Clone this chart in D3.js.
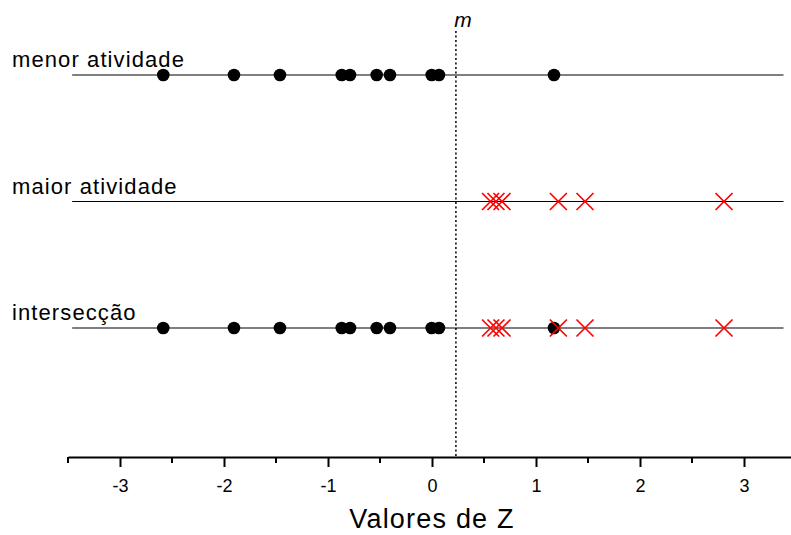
<!DOCTYPE html>
<html>
<head>
<meta charset="utf-8">
<script src="https://cdn.jsdelivr.net/npm/d3@7"></script>
<style>
  body { margin: 0; background: #fff; }
  text { font-family: "Liberation Sans", Arial, sans-serif; }
</style>
</head>
<body>
<div id="chart"></div>
<script>
// data
let rows = ["menor atividade", "maior atividade", "intersecção"];
let menor = [-2.584, -1.904, -1.462, -0.868, -0.788, -0.532, -0.404, -0.003, 0.067, 1.173];
let maior = [0.563, 0.615, 0.673, 1.215, 1.471, 2.808];
let mValue = 0.23;
let majorTicks = [-3, -2, -1, 0, 1, 2, 3];
let minorTicks = [-3.5, -2.5, -1.5, -0.5, 0.5, 1.5, 2.5, 3.5];

let width = 791, height = 535;

let svg = d3.select("#chart")
    .append("svg")
    .attr("width", width)
    .attr("height", height);

// x scale: 0 sits at 432px, one unit = 104px
let x = d3.scaleLinear()
    .domain([-3.5, 3.5])
    .range([68, 796]);

let y = d3.scalePoint()
    .domain(rows)
    .range([75, 328]);

let axisY = 457;

// row lines
svg.selectAll(".rowline")
    .data(rows)
    .enter()
    .append("line")
    .attr("x1", x(-3.46))
    .attr("x2", x(3.38))
    .attr("y1", function(d) { return y(d); })
    .attr("y2", function(d) { return y(d); })
    .attr("stroke", "#000")
    .attr("stroke-width", 1.1);

// row labels
svg.selectAll(".rowlabel")
    .data(rows)
    .enter()
    .append("text")
    .attr("x", 12)
    .attr("y", function(d) { return y(d) - 8; })
    .attr("font-size", "22px")
    .attr("letter-spacing", "1.1px")
    .attr("fill", "#000")
    .text(function(d) { return d; });

// m dotted line
svg.append("line")
    .attr("x1", x(mValue))
    .attr("x2", x(mValue))
    .attr("y1", 31)
    .attr("y2", axisY)
    .attr("stroke", "#000")
    .attr("stroke-width", 1.5)
    .attr("stroke-dasharray", "2,2.5");

svg.append("text")
    .attr("x", x(mValue) + 7)
    .attr("y", 27)
    .attr("text-anchor", "middle")
    .attr("font-size", "21px")
    .attr("font-style", "italic")
    .text("m");

// dots
let dotData = [];
menor.forEach(function(v) { dotData.push({row: "menor atividade", v: v}); });
menor.forEach(function(v) { dotData.push({row: "intersecção", v: v}); });

svg.selectAll(".dot")
    .data(dotData)
    .enter()
    .append("circle")
    .attr("cx", function(d) { return x(d.v); })
    .attr("cy", function(d) { return y(d.row); })
    .attr("r", 6.3)
    .attr("fill", "#000");

// crosses
let crossData = [];
maior.forEach(function(v) { crossData.push({row: "maior atividade", v: v}); });
maior.forEach(function(v) { crossData.push({row: "intersecção", v: v}); });

let cs = 8.5;
svg.selectAll(".cross")
    .data(crossData)
    .enter()
    .append("path")
    .attr("d", function(d) {
        let cx = x(d.v), cy = y(d.row);
        return "M" + (cx - cs) + "," + (cy - cs) + "L" + (cx + cs) + "," + (cy + cs) +
               "M" + (cx - cs) + "," + (cy + cs) + "L" + (cx + cs) + "," + (cy - cs);
    })
    .attr("fill", "none")
    .attr("stroke", "#ff0000")
    .attr("stroke-width", 1.7);

// x axis
let axisG = svg.append("g")
    .attr("transform", "translate(0," + axisY + ")")
    .call(d3.axisBottom(x)
        .tickValues(majorTicks)
        .tickSize(10)
        .tickSizeOuter(0)
        .tickPadding(12)
        .tickFormat(d3.format("d")));

axisG.select(".domain")
    .attr("stroke-width", 2);
axisG.selectAll(".tick line")
    .attr("stroke-width", 2);
axisG.selectAll(".tick text")
    .attr("font-size", "18px")
    .attr("font-family", "Liberation Sans, Arial, sans-serif")
    .text(function(d) { return d < 0 ? "-" + Math.abs(d) : d; });

// minor ticks
axisG.selectAll(".minor")
    .data(minorTicks)
    .enter()
    .append("line")
    .attr("x1", function(d) { return x(d); })
    .attr("x2", function(d) { return x(d); })
    .attr("y1", 0)
    .attr("y2", 6)
    .attr("stroke", "#000")
    .attr("stroke-width", 2);

// axis title
svg.append("text")
    .attr("x", x(0))
    .attr("y", 528)
    .attr("text-anchor", "middle")
    .attr("font-size", "27px")
    .attr("letter-spacing", "1.2px")
    .text("Valores de Z");
</script>
</body>
</html>
